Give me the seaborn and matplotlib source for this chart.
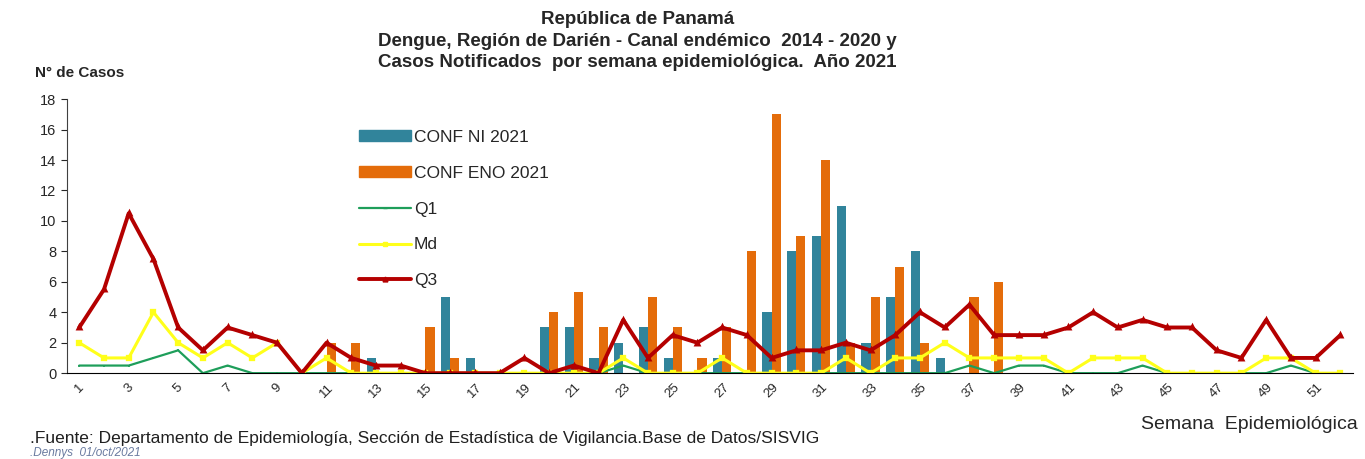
import seaborn as sns
import matplotlib.pyplot as plt
import pandas as pd
import numpy as np
from matplotlib.patches import Patch
from matplotlib.lines import Line2D

sns.set_style('white')
plt.rcParams['font.family'] = ['Liberation Sans', 'DejaVu Sans']

# Epidemiological weeks 1-52
weeks = list(range(1, 53))

# Confirmed cases 2021 (bars)
conf_ni = [0, 0, 0, 0, 0, 0, 0, 0, 0, 0,
           0, 0, 1, 0, 0, 5, 1, 0, 0, 3,
           3, 1, 2, 3, 1, 0, 1, 0, 4, 8,
           9, 11, 2, 5, 8, 1, 0, 0, 0, 0,
           0, 0, 0, 0, 0, 0, 0, 0, 0, 0,
           0, 0]
conf_eno = [0, 0, 0, 0, 0, 0, 0, 0, 0, 0,
            2, 2, 0, 0, 3, 1, 0, 0, 0, 4,
            5.3, 3, 0, 5, 3, 1, 3, 8, 17, 9,
            14, 2, 5, 7, 2, 0, 5, 6, 0, 0,
            0, 0, 0, 0, 0, 0, 0, 0, 0, 0,
            0, 0]

# Endemic channel 2014-2020
q1 = [0.5, 0.5, 0.5, 1, 1.5, 0, 0.5, 0, 0, 0,
      0, 0, 0, 0, 0, 0, 0, 0, 0, 0,
      0, 0, 0.5, 0, 0, 0, 0, 0, 0, 0,
      0, 0, 0, 0, 0, 0, 0.5, 0, 0.5, 0.5,
      0, 0, 0, 0.5, 0, 0, 0, 0, 0, 0.5,
      0, 0]
md = [2, 1, 1, 4, 2, 1, 2, 1, 2, 0,
      1, 0, 0, 0, 0, 0, 0, 0, 0, 0,
      0, 0, 1, 0, 0, 0, 1, 0, 0, 0,
      0, 1, 0, 1, 1, 2, 1, 1, 1, 1,
      0, 1, 1, 1, 0, 0, 0, 0, 1, 1,
      0, 0]
q3 = [3, 5.5, 10.5, 7.5, 3, 1.5, 3, 2.5, 2, 0,
      2, 1, 0.5, 0.5, 0, 0, 0, 0, 1, 0,
      0.5, 0, 3.5, 1, 2.5, 2, 3, 2.5, 1, 1.5,
      1.5, 2, 1.5, 2.5, 4, 3, 4.5, 2.5, 2.5, 2.5,
      3, 4, 3, 3.5, 3, 3, 1.5, 1, 3.5, 1,
      1, 2.5]

c_ni = '#31849B'
c_eno = '#E46C0A'
c_q1 = '#1E9E5A'
c_md = '#FFFF1A'
c_q3 = '#B40000'

bars = pd.DataFrame({
    'Semana': weeks * 2,
    'Casos': conf_ni + conf_eno,
    'Serie': ['CONF NI 2021'] * 52 + ['CONF ENO 2021'] * 52,
})

fig = plt.figure(figsize=(13.65, 4.59), dpi=100)
ax = fig.add_axes([0.049, 0.187, 0.942, 0.597])

sns.barplot(data=bars, x='Semana', y='Casos', hue='Serie',
            palette=[c_ni, c_eno], saturation=1, width=0.74, gap=0,
            dodge=True, legend=False, ax=ax, zorder=2, linewidth=0)

sns.pointplot(x=weeks, y=q1, color=c_q1, markers='_', markersize=2,
              linewidth=1.6, errorbar=None, ax=ax)
sns.pointplot(x=weeks, y=md, color=c_md, markers='s', markersize=2.6,
              linewidth=2.2, errorbar=None, ax=ax)
sns.pointplot(x=weeks, y=q3, color=c_q3, markers='^', markersize=2.2,
              linewidth=2.8, errorbar=None, ax=ax)

ax.set_ylim(0, 18)
ax.set_xlim(-0.5, 51.5)
ax.set_yticks(range(0, 19, 2))
ax.set_xticks(range(0, 52, 2))
ax.set_xticklabels([str(w) for w in weeks[::2]], rotation=45, fontsize=9.5)
ax.set_xticks(np.arange(-0.5, 52, 1), minor=True)
ax.tick_params(axis='x', which='major', length=0, pad=6)
ax.tick_params(axis='x', which='minor', length=4, direction='out', color='black')
ax.tick_params(axis='y', length=4, direction='out', labelsize=10.5, left=True)
ax.set_xlabel('')
ax.set_ylabel('')
for s in ['top', 'right']:
    ax.spines[s].set_visible(False)
ax.spines['left'].set_color('#404040')
ax.spines['bottom'].set_color('black')

handles = [
    Patch(color=c_ni, label='CONF NI 2021'),
    Patch(color=c_eno, label='CONF ENO 2021'),
    Line2D([], [], color=c_q1, lw=1.6, marker='_', ms=3, label='Q1'),
    Line2D([], [], color=c_md, lw=2.2, marker='s', ms=3.5, label='Md'),
    Line2D([], [], color=c_q3, lw=2.8, marker='^', ms=3.5, label='Q3'),
]
ax.legend(handles=handles, loc='upper left', bbox_to_anchor=(0.215, 0.945),
          frameon=False, fontsize=12.5, labelspacing=1.2, handlelength=3,
          handleheight=0.6, handletextpad=0.15)

title = ('República de Panamá\n'
         'Dengue, Región de Darién - Canal endémico  2014 - 2020 y\n'
         'Casos Notificados  por semana epidemiológica.  Año 2021')
fig.text(0.467, 0.976, title, ha='center', va='top', fontsize=13.5,
         fontweight='bold', linespacing=1.35)
fig.text(0.026, 0.833, 'N° de Casos', fontsize=11, fontweight='bold')
fig.text(0.995, 0.066, 'Semana  Epidemiológica', ha='right', fontsize=14)
fig.text(0.022, 0.034, '.Fuente: Departamento de Epidemiología, Sección de Estadística de Vigilancia.Base de Datos/SISVIG',
         fontsize=12.5, color='#202020')
fig.text(0.022, 0.006, '.Dennys  01/oct/2021', fontsize=8.5, style='italic', color='#6A7BA0')

plt.savefig('out.png', dpi=100)
plt.close()
